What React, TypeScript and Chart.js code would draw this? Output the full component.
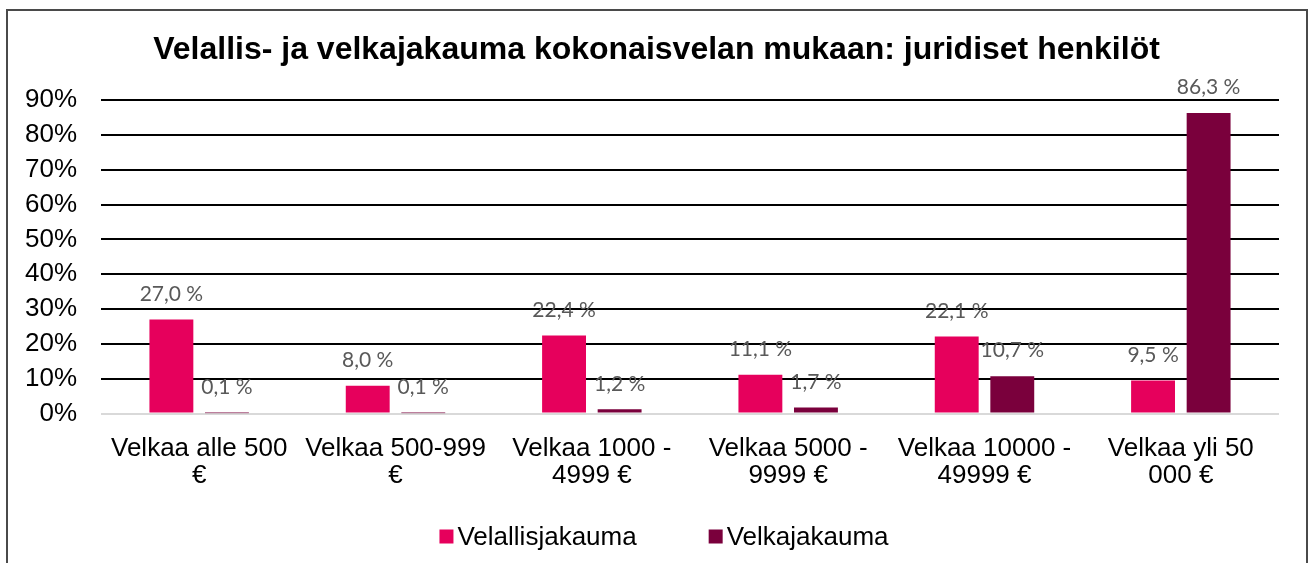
import React, { useEffect, useRef } from "react";
import { Chart, registerables } from "chart.js";

Chart.register(...registerables);

const titleText = "Velallis- ja velkajakauma kokonaisvelan mukaan: juridiset henkilöt";
const categories: string[][] = [
  ["Velkaa alle 500", "€"],
  ["Velkaa 500-999", "€"],
  ["Velkaa 1000 -", "4999 €"],
  ["Velkaa 5000 -", "9999 €"],
  ["Velkaa 10000 -", "49999 €"],
  ["Velkaa yli 50", "000 €"],
];
const seriesNames = ["Velallisjakauma", "Velkajakauma"];
const velallisjakauma = [27.0, 8.0, 22.4, 11.1, 22.1, 9.5];
const velkajakauma = [0.1, 0.1, 1.2, 1.7, 10.7, 86.3];
const yMin = 0;
const yMax = 90;
const yStep = 10;

const PINK = "#E6005C";
const DARK = "#7A003C";
const SANS = "'Liberation Sans', Arial, sans-serif";
const LABEL_FONT = "Lato, 'Noto Sans', sans-serif";

const framePlugin = {
  id: "frame",
  beforeDraw(chart: any) {
    const { ctx, width, height } = chart;
    ctx.save();
    ctx.fillStyle = "#ffffff";
    ctx.fillRect(0, 0, width, height);
    ctx.strokeStyle = "#4a4a4a";
    ctx.lineWidth = 2;
    ctx.strokeRect(7, 10, 1300, 600);
    ctx.restore();
  },
};

const valueLabelPlugin = {
  id: "valueLabels",
  afterDatasetsDraw(chart: any) {
    const { ctx } = chart;
    ctx.save();
    ctx.font = `21px ${LABEL_FONT}`;
    ctx.fillStyle = "#595959";
    ctx.textAlign = "center";
    ctx.textBaseline = "middle";
    chart.data.datasets.forEach((ds: any, di: number) => {
      const meta = chart.getDatasetMeta(di);
      meta.data.forEach((el: any, i: number) => {
        const v = ds.data[i] as number;
        const txt = v.toFixed(1).replace(".", ",") + " %";
        ctx.fillText(txt, el.x, el.y - 25.5);
      });
    });
    ctx.restore();
  },
};

const legendPlugin = {
  id: "customLegend",
  afterDraw(chart: any) {
    const { ctx } = chart;
    ctx.save();
    ctx.font = `26px ${SANS}`;
    ctx.textBaseline = "middle";
    ctx.textAlign = "left";
    const box = 14;
    const gap = 4;
    const itemGap = 72;
    const items = chart.data.datasets.map((ds: any) => ({
      label: ds.label as string,
      color: ds.backgroundColor as string,
      w: ctx.measureText(ds.label).width,
    }));
    const total = items.reduce((s: number, it: any) => s + box + gap + it.w, 0) + itemGap * (items.length - 1);
    let x = 664 - total / 2;
    const cy = 536.5;
    items.forEach((it: any) => {
      ctx.fillStyle = it.color;
      ctx.fillRect(x, cy - box / 2, box, box);
      ctx.fillStyle = "#000000";
      ctx.fillText(it.label, x + box + gap, cy + 1);
      x += box + gap + it.w + itemGap;
    });
    ctx.restore();
  },
};

export default function App() {
  const ref = useRef<HTMLCanvasElement | null>(null);

  useEffect(() => {
    if (!ref.current) return;
    const chart = new Chart(ref.current, {
      type: "bar",
      data: {
        labels: categories,
        datasets: [
          {
            label: seriesNames[0],
            data: velallisjakauma,
            backgroundColor: PINK,
            borderWidth: 0,
            categoryPercentage: 0.566,
            barPercentage: 0.79,
          },
          {
            label: seriesNames[1],
            data: velkajakauma,
            backgroundColor: DARK,
            borderWidth: 0,
            categoryPercentage: 0.566,
            barPercentage: 0.79,
          },
        ],
      },
      options: {
        animation: false,
        responsive: false,
        devicePixelRatio: 1,
        layout: { padding: { left: 4, right: 0, top: 0, bottom: 73.5 } },
        plugins: {
          legend: { display: false },
          tooltip: { enabled: false },
          title: {
            display: true,
            text: titleText,
            color: "#000000",
            font: { family: SANS, size: 32, weight: "bold", lineHeight: 1.2 },
            padding: { top: 30.8, bottom: 30.8 },
          },
        },
        scales: {
          x: {
            grid: { display: false, drawTicks: false },
            border: { display: false },
            ticks: {
              color: "#000000",
              font: { family: SANS, size: 26, lineHeight: 1.04 },
              padding: 22,
              autoSkip: false,
              maxRotation: 0,
              minRotation: 0,
            },
            afterFit: (s: any) => {
              s.height = 76;
            },
          },
          y: {
            min: yMin,
            max: yMax,
            grid: {
              drawTicks: false,
              lineWidth: 2,
              color: (c: any) => (c.tick && c.tick.value === 0 ? "#D9D9D9" : "#000000"),
            },
            border: { display: false },
            ticks: {
              stepSize: yStep,
              autoSkip: false,
              padding: 24,
              color: "#000000",
              font: { family: SANS, size: 26 },
              callback: (v: any) => `${v}%`,
            },
            afterFit: (s: any) => {
              s.width = 97;
            },
          },
          yRight: {
            position: "right",
            display: true,
            grid: { display: false, drawTicks: false },
            border: { display: false },
            ticks: { display: false },
            afterFit: (s: any) => {
              s.width = 30;
            },
          },
        },
      },
      plugins: [framePlugin, valueLabelPlugin, legendPlugin],
    } as any);
    return () => chart.destroy();
  }, []);

  return (
    <div style={{ position: "fixed", left: 0, top: 0, width: 1309, height: 563, overflow: "hidden", background: "#fff" }}>
      <canvas ref={ref} width={1309} height={563} style={{ display: "block", width: 1309, height: 563 }} />
    </div>
  );
}
